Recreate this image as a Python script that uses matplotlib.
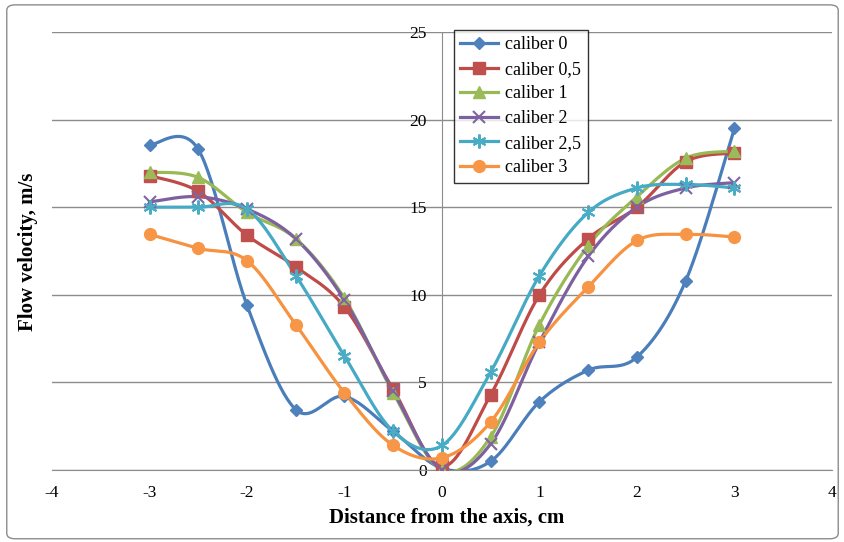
import numpy as np
import matplotlib
matplotlib.use("Agg")
import matplotlib.pyplot as plt
from matplotlib.patches import FancyBboxPatch

x = [-3, -2.5, -2, -1.5, -1, -0.5, 0, 0.5, 1, 1.5, 2, 2.5, 3]
cal_0 = [18.55, 18.3, 9.4, 3.45, 4.2, 2.2, 0.1, 0.5, 3.9, 5.7, 6.45, 10.8, 19.5]
cal_05 = [16.8, 15.9, 13.4, 11.6, 9.3, 4.6, 0.2, 4.3, 10.0, 13.2, 15.0, 17.6, 18.1]
cal_1 = [17.0, 16.7, 14.7, 13.2, 9.8, 4.4, 0.0, 1.9, 8.3, 12.8, 15.6, 17.8, 18.2]
cal_2 = [15.3, 15.6, 14.9, 13.2, 9.7, 4.5, 0.0, 1.5, 7.3, 12.2, 15.0, 16.1, 16.4]
cal_25 = [15.0, 15.0, 14.9, 11.1, 6.5, 2.2, 1.4, 5.6, 11.1, 14.7, 16.1, 16.3, 16.1]
cal_3 = [13.45, 12.65, 11.95, 8.3, 4.4, 1.4, 0.7, 2.75, 7.3, 10.45, 13.1, 13.45, 13.3]

labels = ["caliber 0", "caliber 0,5", "caliber 1", "caliber 2", "caliber 2,5", "caliber 3"]
series = [cal_0, cal_05, cal_1, cal_2, cal_25, cal_3]
line_colors = ["#4A7EBB", "#BE4B48", "#98B954", "#7D60A0", "#46AAC5", "#F69240"]
mark_colors = ["#4F81BD", "#C0504D", "#9BBB59", "#8064A2", "#4BACC6", "#F79646"]
markers = ["D", "s", "^", "x", (6, 2, 0), "o"]
msizes = [6, 8, 8, 8, 10, 8.5]


def smooth(xs, ys, n=30):
    # Bezier smoothing like Excel (Catmull-Rom control points)
    P = np.column_stack([xs, ys]).astype(float)
    out = []
    m = len(P)
    for i in range(m - 1):
        p0 = P[i - 1] if i > 0 else P[i]
        p1 = P[i]
        p2 = P[i + 1]
        p3 = P[i + 2] if i + 2 < m else P[i + 1]
        c1 = p1 + (p2 - p0) / 6.0
        c2 = p2 - (p3 - p1) / 6.0
        t = np.linspace(0, 1, n)[:, None]
        seg = ((1 - t) ** 3) * p1 + 3 * ((1 - t) ** 2) * t * c1 + 3 * (1 - t) * t ** 2 * c2 + t ** 3 * p2
        out.append(seg if i == 0 else seg[1:])
    out = np.vstack(out)
    return out[:, 0], out[:, 1]


plt.rcParams["font.family"] = ["Liberation Serif", "DejaVu Serif"]

fig = plt.figure(figsize=(8.45, 5.42), dpi=100)
fig.patches.append(FancyBboxPatch((0.008, 0.006), 0.984, 0.985, boxstyle="round,pad=0,rounding_size=0.01",
                                  transform=fig.transFigure, fill=False, edgecolor="#8C8C8C", lw=1.0))
ax = fig.add_axes([52 / 845, 1 - 470 / 542, (832 - 52) / 845, (470 - 32) / 542])
ax.set_xlim(-4, 4)
ax.set_ylim(0, 25)

for ys, lab, lc, mc, mk, ms in zip(series, labels, line_colors, mark_colors, markers, msizes):
    sx, sy = smooth(x, ys)
    ax.plot(sx, sy, color=lc, lw=2.3, zorder=3)
    ax.plot(x, ys, linestyle="none", marker=mk, color=mc, markersize=ms,
            markeredgewidth=1.5 if mk in ("x", (6, 2, 0)) else 1.0, markeredgecolor=mc, zorder=4)
    ax.plot([], [], color=lc, lw=2.3, marker=mk, markerfacecolor=mc, markeredgecolor=mc,
            markersize=ms, markeredgewidth=1.5 if mk in ("x", (6, 2, 0)) else 1.0, label=lab)

ax.set_yticks([0, 5, 10, 15, 20, 25])
ax.set_xticks([-4, -3, -2, -1, 0, 1, 2, 3, 4])
ax.set_xticklabels(["-4", "-3", "-2", "-1", "0", "1", "2", "3", "4"])
ax.grid(axis="y", color="#8C8C8C", lw=1.0)
ax.set_axisbelow(True)

for s in ["top", "right"]:
    ax.spines[s].set_visible(False)
ax.spines["left"].set_position(("data", 0))
ax.spines["bottom"].set_position(("data", 0))
ax.spines["left"].set_color("#8C8C8C")
ax.spines["bottom"].set_color("#8C8C8C")
ax.spines["left"].set_zorder(1)
ax.tick_params(axis="both", colors="#8C8C8C", labelcolor="black", labelsize=12.5, length=0, width=1)
ax.tick_params(axis="x", pad=10.5)
ax.tick_params(axis="y", pad=11)
ax.spines["bottom"].set_bounds(-4, 4)

# x-axis label and y-axis label in figure coords
fig.text(447 / 845, 1 - 518 / 542, "Distance from the axis, cm", ha="center", va="center",
         fontsize=15, fontweight="bold")
fig.text(28 / 845, 1 - 252 / 542, "Flow velocity, m/s", ha="center", va="center",
         fontsize=15, fontweight="bold", rotation=90)

leg = ax.legend(loc="upper left", bbox_to_anchor=(454 / 845, 1 - 30 / 542), bbox_transform=fig.transFigure,
                frameon=True, fancybox=False, edgecolor="black", fontsize=13, handlelength=2.1,
                handletextpad=0.4, labelspacing=0.42, borderpad=0.35, borderaxespad=0)
leg.get_frame().set_linewidth(1.0)

fig.savefig("out.png", dpi=100)
